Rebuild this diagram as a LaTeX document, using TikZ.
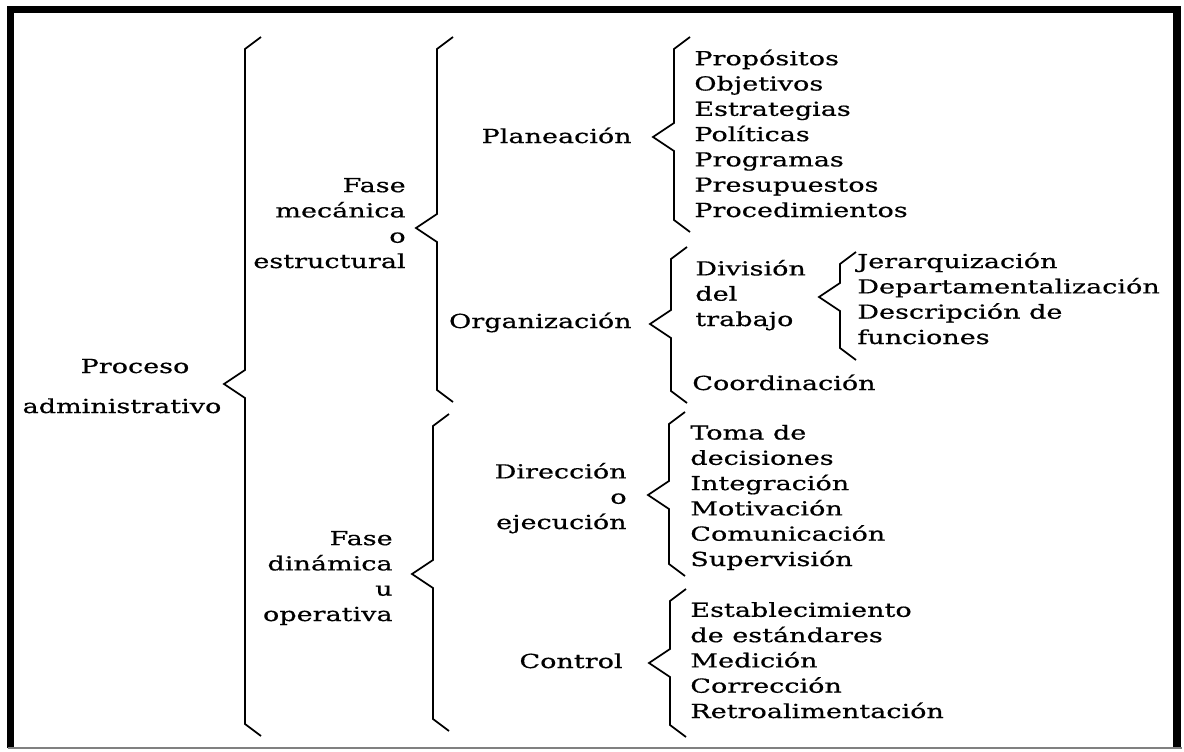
\documentclass[tikz,border=0pt]{standalone}
\usepackage{fontspec}
\setmainfont{DejaVu Serif}[FakeStretch=1.4, FakeBold=0.6]
\usepackage{tikz}
\newcommand{\llave}[4]{% x, top, tip, bottom
  \draw[brace line] (#1+16,#2) -- (#1,#2+12) -- (#1,#3-14) -- (#1-21,#3) -- (#1,#3+14) -- (#1,#4-12) -- (#1+16,#4);}

\begin{document}
\begin{tikzpicture}[
    x=0.02cm, y=-0.02cm,
    txt/.style={font=\fontsize{11}{14.4}\selectfont, inner sep=0pt},
    left txt/.style={txt, align=left, anchor=base west},
    right txt/.style={txt, align=right, anchor=base east},
    brace line/.style={line width=1pt, line join=miter}
]
\useasboundingbox (0,0) rectangle (1184,751);
\draw[line width=4pt] (10.5,748) -- (10.5,9.5) -- (1177,9.5) -- (1177,748);
\draw[gray, line width=0.8pt] (8,748) -- (1182,748);

% multi-line nodes sit on the baseline of their last line
\node[txt, anchor=base] (proceso) at (135,373) {Proceso};
\node[txt, anchor=base] (admin) at (122,413) {administrativo};
\node[right txt] (mecanica) at (406,268) {Fase\\mecánica\\o\\estructural};
\node[right txt] (dinamica) at (393,621) {Fase\\dinámica\\u\\operativa};

\node[right txt] (planeacion) at (632,143) {Planeación};
\node[right txt] (organizacion) at (632,328) {Organización};
\node[right txt] (direccion) at (627,529) {Dirección\\o\\ejecución};
\node[right txt] (control) at (623,668) {Control};

\node[left txt] (planitems) at (694,217) {Propósitos\\Objetivos\\Estrategias\\Políticas\\Programas\\Presupuestos\\Procedimientos};
\node[left txt] (division) at (695,326) {División\\del\\trabajo};
\node[left txt] (coordinacion) at (692,390) {Coordinación};
\node[left txt] (divitems) at (857,344) {Jerarquización\\Departamentalización\\Descripción de\\funciones};
\node[left txt] (diritems) at (690,566) {Toma de\\decisiones\\Integración\\Motivación\\Comunicación\\Supervisión};
\node[left txt] (ctrlitems) at (690,718) {Establecimiento\\de estándares\\Medición\\Corrección\\Retroalimentación};

\llave{245}{37}{384}{736}
\llave{437}{37}{228}{402}
\llave{433}{414}{574}{731}
\llave{674}{37}{137}{232}
\llave{671}{247}{324}{403}
\llave{840}{252}{297}{360}
\llave{669}{412}{495}{576}
\llave{670}{589}{663}{737}
\end{tikzpicture}
\end{document}
